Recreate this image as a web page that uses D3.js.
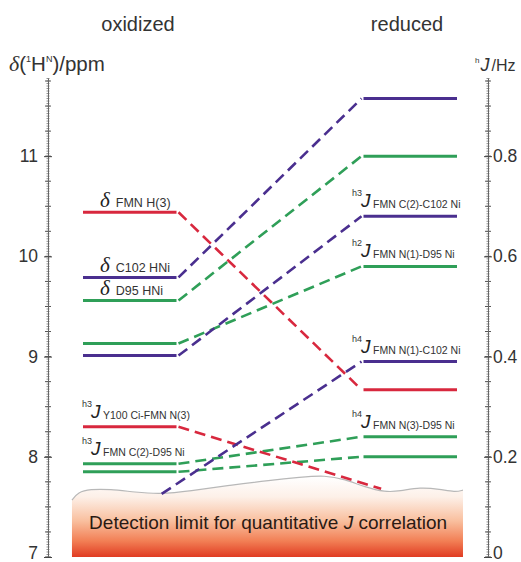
<!DOCTYPE html>
<html><head><meta charset="utf-8">
<script src="https://cdn.jsdelivr.net/npm/d3@7"></script>
<style>
body{margin:0;background:#fff;}
svg{display:block;font-family:"Liberation Sans",Arial,sans-serif;}
</style>
</head><body>
<svg id="c" width="521" height="562"></svg>
<script>
// ---------------- data ----------------
const groups = ["FMN", "C102", "D95"];
const oxidizedPpm   = [10.44, 9.79, 9.56, 9.13, 9.01, 8.30, 7.93, 7.85];
const oxidizedGroup = ["FMN", "C102", "D95", "D95", "C102", "FMN", "D95", "D95"];
const reducedJ      = [0.915, 0.80, 0.68, 0.58, 0.39, 0.334, 0.24, 0.20];
const reducedGroup  = ["C102", "D95", "C102", "D95", "C102", "FMN", "D95", "D95"];
// oxidized index -> reduced index
const links = [[0, 5], [1, 0], [2, 1], [3, 3], [4, 2], [6, 6], [7, 7]];
// couplings that vanish into / emerge from the detection limit ([position, ppm])
const lostLink = {group: "FMN", from: 5, end: [3.21, 7.68]};
const newLink  = {group: "C102", start: [0.82, 7.63], to: 4};
// upper edge of the detection-limit region ([position, ppm])
const limitX   = [-0.118, -0.053, 0.075, 0.289, 0.556, 0.824, 1.144, 1.572, 2.0, 2.321, 2.588, 2.802, 3.016, 3.23, 3.39, 3.604, 3.818, 3.979, 4.064];
const limitPpm = [7.567, 7.647, 7.677, 7.677, 7.647, 7.627, 7.657, 7.716, 7.766, 7.796, 7.816, 7.776, 7.697, 7.647, 7.657, 7.697, 7.677, 7.647, 7.667];
const ppmTicks = [7, 8, 9, 10, 11];
const jTicks = [0, 0.2, 0.4, 0.6, 0.8];
const jTickLabels = ["0", "0.2", "0.4", "0.6", "0.8"];
const deltaLabels = [
  {idx: 0, text: "FMN H(3)"},
  {idx: 1, text: "C102 HNi"},
  {idx: 2, text: "D95 HNi"}
];
const leftJLabels = [
  {idx: 5, sup: "h3", sub: "Y100 Ci-FMN N(3)"},
  {idx: 6, sup: "h3", sub: "FMN C(2)-D95 Ni"}
];
const rightJLabels = [
  {idx: 2, sup: "h3", sub: "FMN C(2)-C102 Ni"},
  {idx: 3, sup: "h2", sub: "FMN N(1)-D95 Ni"},
  {idx: 4, sup: "h4", sub: "FMN N(1)-C102 Ni"},
  {idx: 6, sup: "h4", sub: "FMN N(3)-D95 Ni"}
];

// ---------------- scales ----------------
const svg = d3.select("#c");
const x = d3.scaleLinear().domain([0, 4]).range([83, 457]);
const y = d3.scaleLinear().domain([7, 11.78]).range([557, 78]);
const yJ = d3.scaleLinear().domain([0, 0.956]).range([557, 78]);
const color = d3.scaleOrdinal().domain(groups).range(["#d8283e", "#4a2f8f", "#2f9f58"]);

// ---------------- detection limit region ----------------
const defs = svg.append("defs");
const grad = defs.append("linearGradient").attr("id", "lim")
  .attr("gradientUnits", "userSpaceOnUse")
  .attr("x1", 0).attr("x2", 0).attr("y1", y(7.8)).attr("y2", y(7));
[[0, "#ffffff"], [0.25, "#fdf0e8"], [0.55, "#f9bf9e"], [0.8, "#f27f55"], [1, "#e03b22"]]
  .forEach(([o, c]) => grad.append("stop").attr("offset", o).attr("stop-color", c));

const edge = limitX.map((v, i) => [v, limitPpm[i]]);
const area = d3.area().x(d => x(d[0])).y0(y(7)).y1(d => y(d[1])).curve(d3.curveBasis);
svg.append("path").datum(edge).attr("d", area).attr("fill", "url(#lim)");
svg.append("path").datum(edge)
  .attr("d", d3.line().x(d => x(d[0])).y(d => y(d[1])).curve(d3.curveBasis))
  .attr("fill", "none").attr("stroke", "#b8b8b8").attr("stroke-width", 1.2);

const lt = svg.append("text").attr("x", x(1.98)).attr("y", 529)
  .attr("text-anchor", "middle").attr("font-size", 19).attr("fill", "#2a1a14");
lt.append("tspan").text("Detection limit for quantitative ");
lt.append("tspan").attr("font-style", "italic").text("J");
lt.append("tspan").text(" correlation");

// ---------------- axes ----------------
function ruler(g, scale, axisFn, step, mid, major, labels, pad) {
  const [lo, hi] = scale.domain();
  const minorVals = d3.range(Math.ceil(lo / step) * step, hi + 1e-9, step);
  const midVals = d3.range(lo, hi + 1e-9, mid);
  g.append("g").selectAll("line").data(minorVals).join("line")
    .attr("x1", -1.5).attr("x2", 1.5)
    .attr("y1", d => scale(d)).attr("y2", d => scale(d))
    .attr("stroke", "#777").attr("stroke-width", 0.8);
  g.append("g").selectAll("line").data(midVals).join("line")
    .attr("x1", -3).attr("x2", 3)
    .attr("y1", d => scale(d)).attr("y2", d => scale(d))
    .attr("stroke", "#555").attr("stroke-width", 1);
  const ax = axisFn(scale).tickValues(major).tickSizeInner(4).tickSizeOuter(0)
    .tickPadding(pad).tickFormat((d, i) => labels[i]);
  const a = g.append("g").call(ax);
  a.select(".domain").attr("stroke", "#666").attr("stroke-width", 1);
  a.selectAll(".tick line").attr("x1", 4).attr("x2", -4).attr("stroke", "#444");
  a.selectAll(".tick text").attr("font-size", 17.5).attr("fill", "#333")
    .attr("font-family", "'Liberation Sans', Arial, sans-serif")
    .attr("dy", (d, i) => i === 0 ? "0.1em" : "0.32em");
}
ruler(svg.append("g").attr("transform", "translate(48,0)"), y, d3.axisLeft, 0.025, 0.25, ppmTicks, ppmTicks.map(String), 6);
ruler(svg.append("g").attr("transform", "translate(488,0)"), yJ, d3.axisRight, 0.005, 0.05, jTicks, jTickLabels, 1);

// ---------------- titles ----------------
svg.append("text").attr("x", 138).attr("y", 31).attr("text-anchor", "middle")
  .attr("font-size", 20).attr("fill", "#333").text("oxidized");
svg.append("text").attr("x", 407).attr("y", 31).attr("text-anchor", "middle")
  .attr("font-size", 20).attr("fill", "#333").text("reduced");

const lTitle = svg.append("text").attr("x", 9).attr("y", 71).attr("font-size", 20.5).attr("fill", "#333");
lTitle.append("tspan").attr("font-family", "'Liberation Serif', serif").attr("font-style", "italic").attr("font-size", 22).text("δ");
lTitle.append("tspan").text("(");
lTitle.append("tspan").attr("font-size", 9).attr("dy", -9).text("1");
lTitle.append("tspan").attr("dy", 9).text("H");
lTitle.append("tspan").attr("font-size", 9).attr("dy", -9).text("N");
lTitle.append("tspan").attr("dy", 9).text(")/ppm");

const rTitle = svg.append("text").attr("x", 475).attr("y", 71).attr("font-size", 16).attr("fill", "#333");
rTitle.append("tspan").attr("font-size", 8).attr("dy", -8).text("h");
rTitle.append("tspan").attr("dy", 8).attr("dx", 1).attr("font-style", "italic").attr("font-size", 18).text("J");
rTitle.append("tspan").attr("dx", 2).text("/Hz");

// ---------------- dashed connectors ----------------
const conn = svg.append("g").attr("fill", "none").attr("stroke-width", 2.6)
  .attr("stroke-dasharray", "11,6");
const segs = links.map(([i, j]) => ({
  group: oxidizedGroup[i],
  p0: [x(1), y(oxidizedPpm[i])],
  p1: [x(3), yJ(reducedJ[j])]
}));
segs.push({group: lostLink.group, p0: [x(1), y(oxidizedPpm[lostLink.from])], p1: [x(lostLink.end[0]), y(lostLink.end[1])]});
segs.push({group: newLink.group, p0: [x(newLink.start[0]), y(newLink.start[1])], p1: [x(3), yJ(reducedJ[newLink.to])]});
conn.selectAll("line").data(segs).join("line")
  .attr("x1", d => d.p0[0] + 2).attr("y1", d => d.p0[1])
  .attr("x2", d => d.p1[0] - 2).attr("y2", d => d.p1[1])
  .attr("stroke", d => color(d.group));

// ---------------- solid levels ----------------
svg.append("g").selectAll("line").data(oxidizedPpm).join("line")
  .attr("x1", x(0)).attr("x2", x(1))
  .attr("y1", d => y(d)).attr("y2", d => y(d))
  .attr("stroke", (d, i) => color(oxidizedGroup[i])).attr("stroke-width", 3);
svg.append("g").selectAll("line").data(reducedJ).join("line")
  .attr("x1", x(3)).attr("x2", x(4))
  .attr("y1", d => yJ(d)).attr("y2", d => yJ(d))
  .attr("stroke", (d, i) => color(reducedGroup[i])).attr("stroke-width", 3);

// ---------------- labels ----------------
deltaLabels.forEach(l => {
  const t = svg.append("text").attr("x", 100).attr("y", y(oxidizedPpm[l.idx]) - 5).attr("fill", "#222");
  t.append("tspan").attr("font-family", "'Liberation Serif', serif").attr("font-style", "italic")
    .attr("font-size", 21).text("δ");
  t.append("tspan").attr("dx", 6).attr("font-size", 12.5).attr("fill", "#333").text(l.text);
});
function jLabel(x0, baseY, l) {
  svg.append("text").attr("x", x0).attr("y", baseY - 12).attr("font-size", 9).attr("fill", "#333").text(l.sup);
  svg.append("text").attr("x", x0 + 9).attr("y", baseY - 1).attr("font-size", 19)
    .attr("font-style", "italic").attr("fill", "#222").text("J");
  svg.append("text").attr("x", x0 + 21).attr("y", baseY).attr("font-size", 10.5)
    .attr("fill", "#333").text(l.sub);
}
leftJLabels.forEach(l => jLabel(82, y(oxidizedPpm[l.idx]) - 8, l));
rightJLabels.forEach(l => jLabel(352, yJ(reducedJ[l.idx]) - 8, l));
</script>
</body></html>
